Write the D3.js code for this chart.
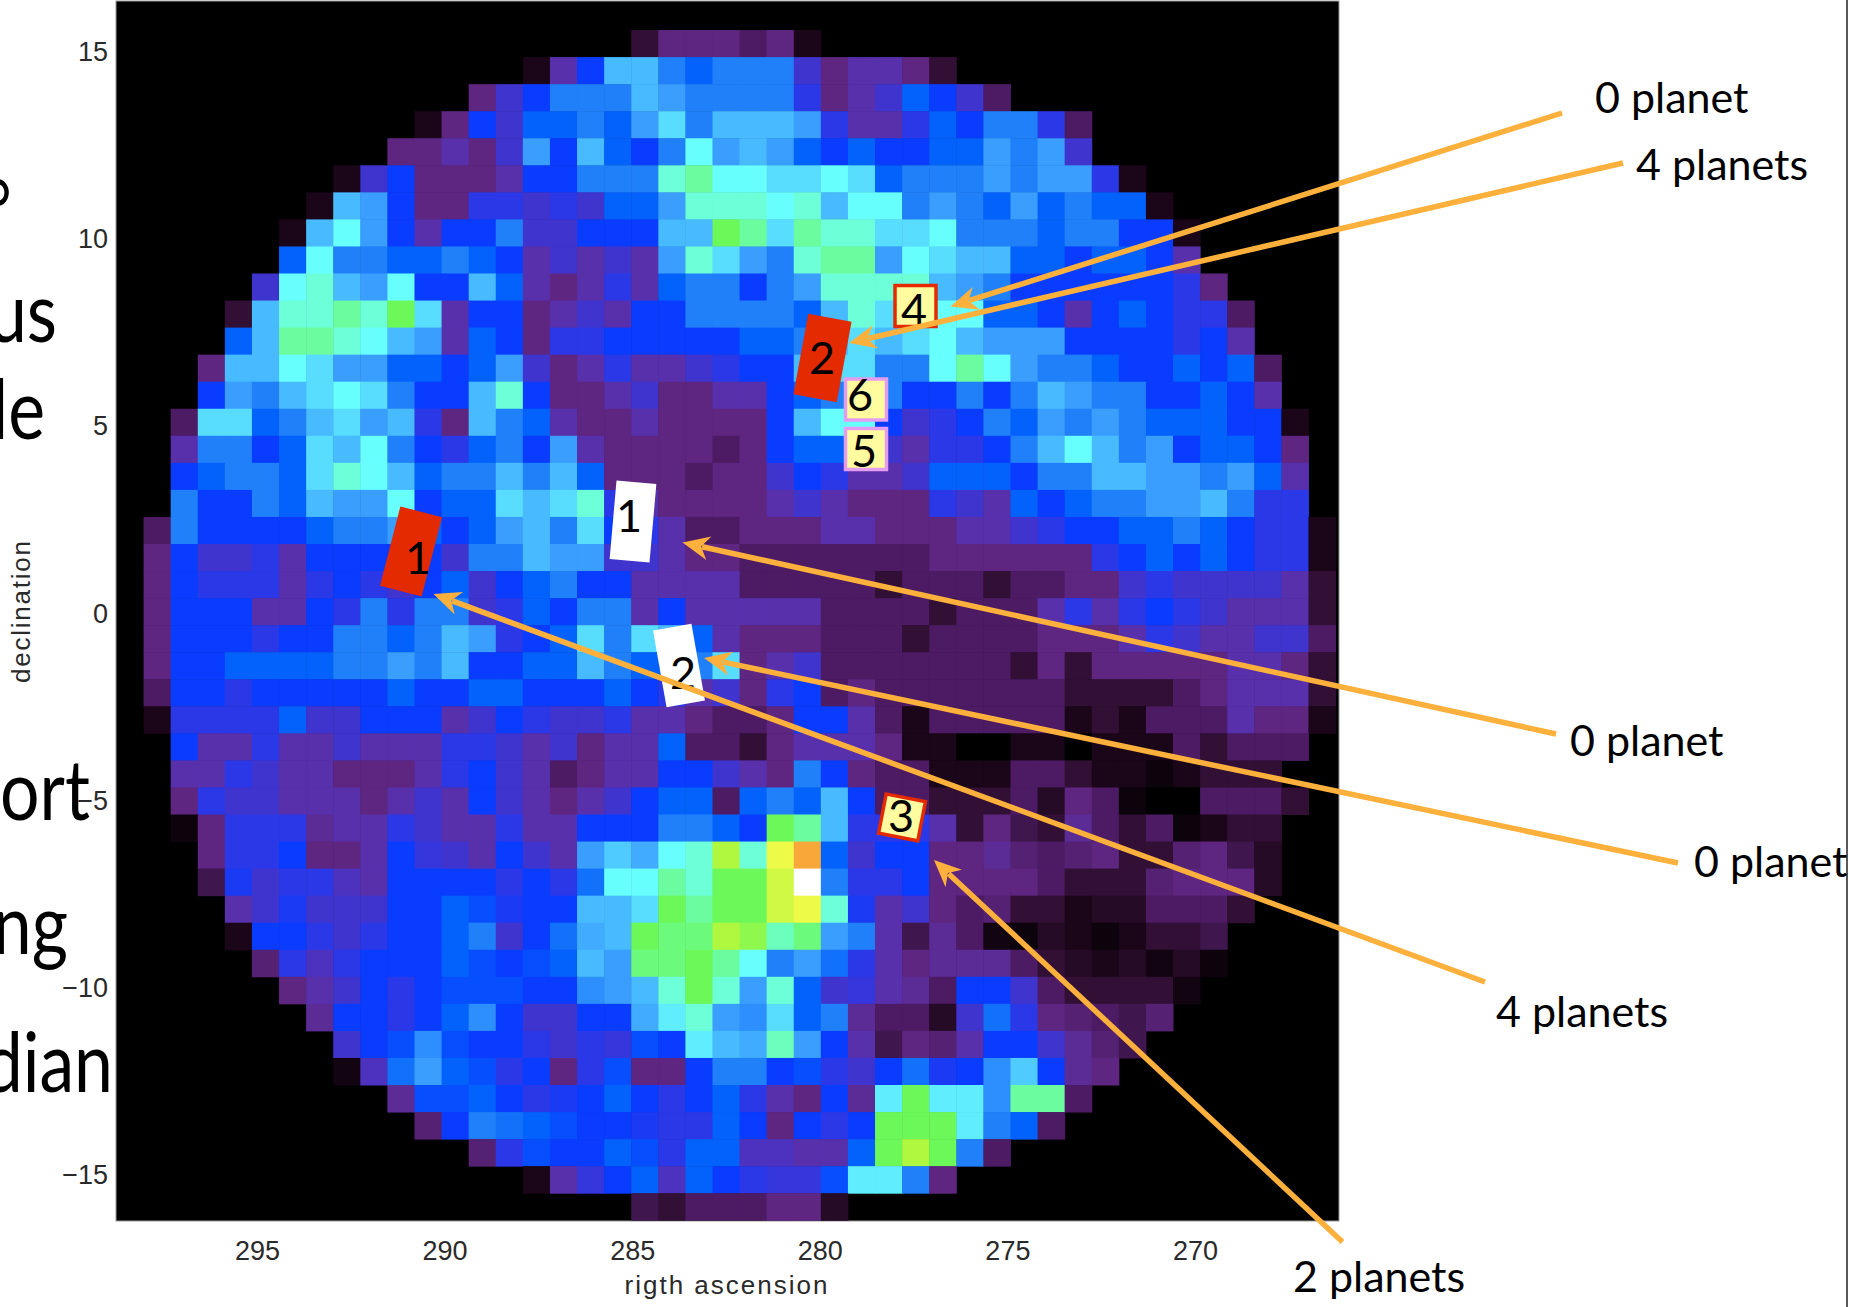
<!DOCTYPE html>
<html>
<head>
<meta charset="utf-8">
<title>Planet map</title>
<script src="https://d3js.org/d3.v7.min.js"></script>
<style>
  html, body { margin: 0; padding: 0; background: #fff; overflow: hidden; }
  svg { display: block; }
  .slide { font-family: Lato, "Noto Sans", sans-serif; fill: #000; }
  .tick text { font-family: "Liberation Sans", sans-serif; font-size: 27px; fill: #2a2a2a; }
  .axis-title { font-family: "Liberation Sans", sans-serif; fill: #2a2a2a; }
</style>
</head>
<body>
<div id="chart"></div>
<script>
// Tick labels
const raTicks = [295, 290, 285, 280, 275, 270];
const decTicks = [15, 10, 5, 0, -5, -10, -15];

// Colour levels of the map, dark sky up to the white peak
const levels = [0, 1, 2, 3, 4, 5, 6, 7, 8, 9, 10, 11, 12, 13, 14, 15, 16, 17, 18, 19, 20, 21];
const levelColors = ['#000000', '#1a0618', '#321036', '#4c1b64', '#5e2680', '#5830ac', '#4034cf', '#2a38e8',
  '#0a3cff', '#0462fc', '#2080fa', '#3a9eff', '#48baff', '#58dcff', '#68ffff', '#6cffd8',
  '#6cfca0', '#6cf858', '#b0f840', '#eefa48', '#f8a838', '#ffffff'];

// First filled column of each row (row 0 of the image is empty)
const rowStart = [19, 15, 13, 11, 10, 8, 7, 6, 6, 5, 4, 4, 3, 3, 2, 2, 2, 2, 1, 1, 1, 1, 1, 1, 1, 1, 2, 2, 2, 2, 3, 3, 4, 4, 5, 6, 7, 8, 8, 10, 11, 13, 15, 19];

// Map levels, row by row, from the top
const rowLevels = [
  [2,4,4,4,3,4,1],
  [1,5,8,12,12,10,9,10,10,10,6,4,5,5,4,2],
  [4,6,8,10,10,10,12,11,10,10,10,10,7,4,5,6,9,8,6,3],
  [1,4,8,6,9,9,10,9,11,13,10,12,12,12,11,7,5,5,7,9,8,10,10,7,3],
  [4,4,5,4,6,11,8,12,9,8,10,14,11,12,11,9,8,9,8,8,9,9,11,10,11,6],
  [1,6,8,4,4,4,5,8,8,10,10,10,15,16,14,14,13,13,14,13,9,10,10,10,11,10,11,11,7,1],
  [1,12,11,8,4,4,7,7,6,7,6,9,9,11,15,15,15,14,15,12,14,14,10,11,10,9,11,9,10,9,9,1],
  [1,12,14,11,8,5,8,8,10,6,6,8,8,8,12,12,17,16,13,16,15,15,13,13,14,10,10,10,9,10,10,8,8,1],
  [9,14,10,10,9,9,10,9,8,5,6,5,6,5,11,15,13,11,10,15,16,16,11,14,13,12,12,9,9,8,9,9,8,5],
  [6,14,15,12,11,14,8,8,12,9,5,4,5,7,5,9,10,10,8,10,11,15,15,15,15,12,11,10,8,8,8,8,8,8,7,4],
  [2,12,15,15,16,15,17,13,5,8,8,4,5,6,5,8,8,10,10,10,10,9,12,15,13,13,14,14,9,9,8,5,8,9,8,7,7,3],
  [9,12,16,16,15,14,12,11,5,9,8,4,7,7,8,8,8,8,8,9,9,10,12,13,12,13,14,12,11,11,11,8,8,8,8,7,8,5],
  [4,12,12,14,13,11,11,9,9,8,9,11,6,4,5,7,5,5,6,7,8,8,12,13,13,10,10,14,16,14,11,10,10,9,8,8,9,8,9,3],
  [8,11,10,12,13,14,13,10,8,8,12,15,8,4,4,5,6,4,4,5,5,8,9,10,12,10,8,8,10,8,10,12,11,10,10,8,8,9,8,5],
  [3,13,13,9,10,12,13,11,12,7,4,12,10,9,5,4,4,5,4,4,4,4,8,12,14,14,8,6,7,8,10,9,11,10,11,10,9,9,9,8,8,1],
  [5,10,10,8,9,13,12,14,10,8,7,9,10,8,11,5,4,4,4,4,3,4,8,9,9,7,6,5,7,7,8,10,12,14,12,10,11,8,9,9,8,4],
  [8,9,10,10,9,13,15,14,12,9,10,10,12,10,12,9,4,4,4,3,4,4,6,8,7,5,5,6,9,9,9,8,10,10,12,12,11,11,10,11,9,5],
  [10,8,8,10,9,12,11,11,14,8,9,9,13,12,13,15,7,5,4,4,4,4,5,6,5,4,4,4,7,6,5,9,8,9,10,10,11,11,12,10,7,7],
  [3,10,8,8,8,8,9,10,10,11,9,8,9,11,12,10,13,8,7,5,3,3,4,4,4,5,5,4,4,4,5,5,6,7,8,8,9,9,10,9,8,7,7,1],
  [4,8,6,6,7,5,8,8,8,8,8,6,10,10,12,11,11,6,6,5,4,4,3,3,3,3,3,3,3,4,4,4,4,4,4,7,8,9,8,9,8,7,7,1],
  [4,8,7,7,7,5,7,8,7,6,8,9,6,8,9,10,8,8,5,5,5,5,3,3,3,3,3,2,3,3,3,2,3,3,4,4,6,7,6,6,6,6,5,2],
  [4,8,8,8,5,5,8,7,10,7,10,10,6,7,9,8,10,10,5,8,5,5,5,5,5,3,3,3,3,2,3,3,3,5,7,5,7,8,7,6,5,5,5,2],
  [4,8,8,8,7,8,8,10,10,9,10,12,11,7,8,9,13,10,13,12,9,5,4,4,4,3,3,3,2,3,3,3,3,4,4,4,5,7,6,5,5,6,6,3],
  [4,8,8,9,9,9,9,10,10,11,10,12,8,8,9,9,12,10,9,9,10,13,4,5,6,3,3,3,3,3,3,3,2,4,2,4,4,4,4,4,5,5,4,2],
  [3,8,8,7,8,8,8,8,8,9,8,8,9,9,8,8,8,9,8,7,5,6,4,7,8,3,4,3,3,3,3,3,3,3,2,2,2,2,3,4,5,5,5,2],
  [1,7,7,7,7,9,6,6,8,8,8,5,6,8,7,6,6,7,5,5,4,3,3,4,8,8,5,3,1,3,3,3,3,3,1,2,1,3,3,3,5,4,4,1],
  [8,5,5,7,5,5,6,5,5,5,7,7,6,5,6,4,5,5,9,3,3,2,4,5,5,5,4,1,1,0,0,1,1,0,1,1,1,3,2,3,3,3],
  [5,5,7,6,5,5,4,4,4,5,7,8,6,5,3,4,5,5,8,8,6,5,4,10,8,4,3,3,1,1,1,3,3,2,1,1,0.5,1,2,2,2],
  [4,7,6,6,5,5,5,4,5,6,5,8,6,5,4,5,6,8,9,9,3,9,10,9,12,8,3,3,2,2,2,3,1.5,4,3,0.5,0,0,3,3,3,2],
  [0.5,4,7,7,7,4.5,5,5,7,6,5,5,7,5,5,8,8,8,10,10,9,8,17,16,12,7,7,7,5,2,4,2.5,2,4.5,3,2,3,0.5,1,2,2],
  [4,7,7,8,4,4,5,8,6.5,6,5,8,6,5,11,12.5,11.5,14,15,18,15,19,20,9,6,8,8,4,4,4.5,3.5,3,3.5,4,2,2,3.5,4,2.5,1.5],
  [2.5,7.5,6,7,7,5.5,5,8,8,8,8,7,8,7,9.5,14,14,16,15,17,17,18.5,21,10,7,7,8,4,4,4,4,3,2,2,2,3.5,4,4,4,1.5],
  [5,6,7.5,6,6,6,8,8,9,8.5,7.5,8,8,12,12,13,17,16,17,17,18.5,19,15,7.5,5,6,4,3,3.5,2,2,1,1.5,1.5,3,3,3,2],
  [1,8,8,7,6,7,8,8,9,10,6,8,9.5,11.5,12,17,16.5,16.5,18,17.5,15.5,16.5,11,10,5,2.5,4.5,3,0.7,0.5,1.5,1,0.5,1,2,2,2.5],
  [3.5,7,5.5,7,8,8,8,9,8.5,8,8.5,9,12,11,16.5,16.5,17,16,14,10,11,9.5,7,5,4,4.5,4.5,4.5,3,2,1.5,1,1.5,0.7,1.5,0.5],
  [4,5,6,8,7,8,8.5,8.5,8.5,8,8,10.5,11,12,15,17,15,11,15,9,6,6.5,5,4.5,3,8,8,6,3,2,2,2,2,0.7],
  [4.5,8,8,7,8,9,10.5,8,6,6,8,8,11.5,13.5,15,11,10.5,13,9,10,4.5,3,3,1.5,6,9.5,7,4,3.5,3,2.5,3.5],
  [6,8,8.5,10.5,8.5,8,8,7,6,7,6.5,8.5,8,13.5,12,11.5,15.5,11,8,5,2.5,4,3.5,5,8,8,6,4.5,3.5,2.5],
  [0.7,5.5,9.5,11,9,8.5,7,8,4,7,8.5,4,4,8,10,10,8,8.5,7,6,8,9.5,7.5,8,10.5,12.5,8,4.5,4],
  [4.5,8.5,8.5,9,8,7,7.5,8,9,8,7,8,9,7,5,4,8,4.5,13.5,17,13.5,13.5,10.5,16,16,3],
  [3.5,8,10,9.5,9,8.5,8,8,7.5,7,7,9,8,4,8,7,8,17,17,17,13.5,10,9,3],
  [3.5,7,8.5,8,8,9,8.5,7,9,9,5.5,5.5,5,5,9,17,18,17,10,3],
  [1,5,6.5,8,9,5.5,9,8,7,6.5,6.5,8.5,13.5,13.5,10,4],
  [2.5,2,3,3,3,4,4,1.5]
];

// Numbered tags stuck on the map: rectangle, then the upright digit on it
const tagLabels = ['2', '1', '1', '2', '4', '6', '5', '3'];
const tagShapes = [
  { cx: 822.5, cy: 358, w: 44, h: 82, rot: 10.4, fill: '#e32a00', stroke: 'none', tx: 822, ty: 358 },
  { cx: 411, cy: 551.5, w: 43, h: 82, rot: 14.4, fill: '#e32a00', stroke: 'none', tx: 418, ty: 558 },
  { cx: 633, cy: 521.5, w: 40, h: 79, rot: 5, fill: '#ffffff', stroke: 'none', tx: 629, ty: 516 },
  { cx: 679, cy: 665.5, w: 39, h: 78, rot: -10, fill: '#ffffff', stroke: 'none', tx: 683, ty: 673 },
  { cx: 915.5, cy: 306, w: 41, h: 41, rot: 0, fill: '#fffb9e', stroke: '#e32a00', tx: 914, ty: 310 },
  { cx: 866, cy: 399.5, w: 41, h: 41, rot: 0, fill: '#fffb9e', stroke: '#e39cf0', tx: 860, ty: 395 },
  { cx: 866, cy: 449, w: 41, h: 41, rot: 0, fill: '#fffb9e', stroke: '#e39cf0', tx: 864, ty: 451 },
  { cx: 902, cy: 817.4, w: 40, h: 40, rot: 11, fill: '#fffb9e', stroke: '#e32a00', tx: 901, ty: 816 }
];

// Callouts: label, label position, line start, arrow tip
const calloutLabels = ['0 planet', '4 planets', '0 planet', '0 planet', '4 planets', '2 planets'];
const calloutSpots = [
  { tx: 1595, ty: 113, x0: 1562, y0: 113, x1: 950.5, y1: 306.5 },
  { tx: 1636, ty: 180, x0: 1623, y0: 163, x1: 849, y1: 343 },
  { tx: 1570, ty: 756, x0: 1556, y0: 734, x1: 682.5, y1: 542.5 },
  { tx: 1694, ty: 877, x0: 1678, y0: 863, x1: 704, y1: 658 },
  { tx: 1496, ty: 1027, x0: 1485, y0: 982, x1: 433.5, y1: 594 },
  { tx: 1293, ty: 1292, x0: 1342.5, y0: 1242, x1: 934, y1: 860 }
];

// Left over text of the slide behind the plot, cut by the page edge
const slideWords = ['°', 'us', 'le', 'ort', 'ng', 'dian'];
const slideSpots = [[12, 240], [57, 342], [45, 439], [90, 820], [68, 954], [113, 1092]];

const width = 1849;
const height = 1307;
const arrowColor = '#fdb03c';

const svg = d3.select('#chart')
  .append('svg')
  .attr('width', width)
  .attr('height', height);

// Slide text goes first, the plot sits on top of it
svg.selectAll('.slide-word')
  .data(slideWords)
  .enter().append('text')
  .attr('class', 'slide slide-word')
  .attr('transform', (_, i) => `translate(${slideSpots[i][0]},${slideSpots[i][1]}) scale(0.83,1)`)
  .attr('text-anchor', 'end')
  .style('font-size', '84px')
  .text(d => d);

// Thin edge of the slide on the right
svg.append('line')
  .attr('x1', 1847)
  .attr('x2', 1847)
  .attr('y1', 0)
  .attr('y2', height)
  .attr('stroke', '#222')
  .attr('stroke-width', 1.5);

// Black plot area
svg.append('rect')
  .attr('x', 116)
  .attr('y', 1)
  .attr('width', 1223)
  .attr('height', 1220)
  .attr('fill', '#000')
  .attr('stroke', '#999')
  .attr('stroke-width', 1);

// Map cells
const colScale = d3.scaleBand()
  .domain(d3.range(45))
  .range([116.5, 116.5 + 45 * 27.09]);
const rowScale = d3.scaleBand()
  .domain(d3.range(45))
  .range([3, 3 + 45 * 27.05]);
const color = d3.scaleLinear()
  .domain(levels)
  .range(levelColors);

const cells = rowLevels.flatMap((values, r) =>
  values.map((level, i) => ({ row: r + 1, col: rowStart[r] + i, level })));

svg.append('g')
  .selectAll('rect')
  .data(cells)
  .enter().append('rect')
  .attr('x', d => colScale(d.col))
  .attr('y', d => rowScale(d.row))
  .attr('width', colScale.bandwidth() + 0.5)
  .attr('height', rowScale.bandwidth() + 0.5)
  .attr('fill', d => color(d.level));

// Axes
const x = d3.scaleLinear().domain([295, 270]).range([257, 1195]);
const y = d3.scaleLinear().domain([15, -15]).range([52, 1175]);

const xAxis = svg.append('g')
  .attr('transform', `translate(0,${1221})`)
  .call(d3.axisBottom(x).tickValues(raTicks).tickSize(0).tickPadding(20).tickFormat(d3.format('d')));
xAxis.select('.domain').remove();

const yAxis = svg.append('g')
  .attr('transform', `translate(${116},0)`)
  .call(d3.axisLeft(y).tickValues(decTicks).tickSize(0).tickPadding(8).tickFormat(d => String(d).replace('-', '\u2212')));
yAxis.select('.domain').remove();

svg.append('text')
  .attr('class', 'axis-title')
  .attr('x', 726)
  .attr('y', 1294)
  .attr('text-anchor', 'middle')
  .attr('textLength', 203)
  .style('font-size', '26px')
  .text('rigth ascension');

svg.append('text')
  .attr('class', 'axis-title')
  .attr('transform', 'translate(30,612) rotate(-90)')
  .attr('text-anchor', 'middle')
  .attr('textLength', 142)
  .style('font-size', '26px')
  .text('declination');

// Tags
svg.selectAll('.tag')
  .data(tagShapes)
  .enter().append('rect')
  .attr('class', 'tag')
  .attr('transform', d => `translate(${d.cx},${d.cy}) rotate(${d.rot})`)
  .attr('x', d => -d.w / 2)
  .attr('y', d => -d.h / 2)
  .attr('width', d => d.w)
  .attr('height', d => d.h)
  .attr('fill', d => d.fill)
  .attr('stroke', d => d.stroke)
  .attr('stroke-width', 3.5);

svg.selectAll('.tag-digit')
  .data(tagShapes)
  .enter().append('text')
  .attr('class', 'slide tag-digit')
  .attr('x', d => d.tx)
  .attr('y', d => d.ty)
  .attr('text-anchor', 'middle')
  .attr('dy', '0.36em')
  .style('font-size', '45px')
  .text((_, i) => tagLabels[i]);

// Callout arrows, drawn over the tags
const arrowHead = d => {
  const a = Math.atan2(d.y0 - d.y1, d.x0 - d.x1);
  const ux = Math.cos(a), uy = Math.sin(a);
  const p = d3.path();
  p.moveTo(d.x1, d.y1);
  p.lineTo(d.x1 + 27 * ux - 12 * uy, d.y1 + 27 * uy + 12 * ux);
  p.lineTo(d.x1 + 19 * ux, d.y1 + 19 * uy);
  p.lineTo(d.x1 + 27 * ux + 12 * uy, d.y1 + 27 * uy - 12 * ux);
  p.closePath();
  return p.toString();
};

const callouts = svg.selectAll('.callout')
  .data(calloutSpots)
  .enter().append('g')
  .attr('class', 'callout');

callouts.append('line')
  .attr('x1', d => d.x0)
  .attr('y1', d => d.y0)
  .attr('x2', d => d.x1 + (d.x0 - d.x1) * 20 / Math.hypot(d.x0 - d.x1, d.y0 - d.y1))
  .attr('y2', d => d.y1 + (d.y0 - d.y1) * 20 / Math.hypot(d.x0 - d.x1, d.y0 - d.y1))
  .attr('stroke', arrowColor)
  .attr('stroke-width', 5.5);

callouts.append('path')
  .attr('d', arrowHead)
  .attr('fill', arrowColor);

callouts.append('text')
  .attr('class', 'slide')
  .attr('x', d => d.tx)
  .attr('y', d => d.ty)
  .style('font-size', '43px')
  .text((_, i) => calloutLabels[i]);
</script>
</body>
</html>
